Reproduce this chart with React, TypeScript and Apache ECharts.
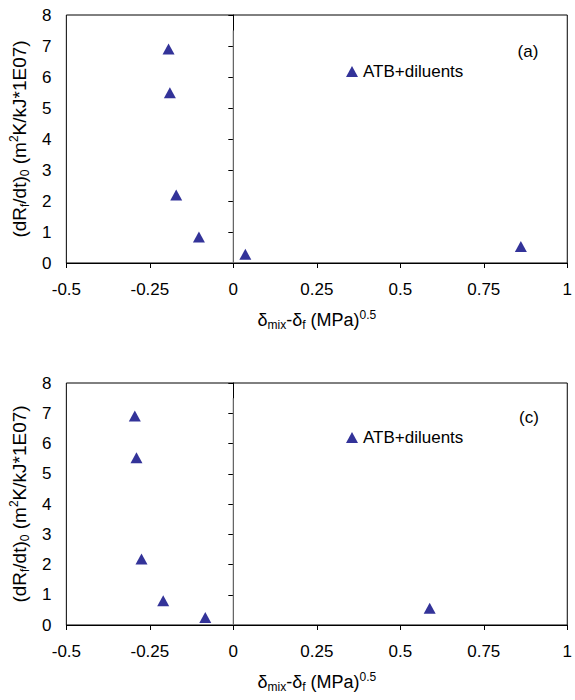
import { useEffect, useRef } from "react";
import * as echarts from "echarts";

const SERIES_NAME = "ATB+diluents";
const X_TICKS = ["-0.5", "-0.25", "0", "0.25", "0.5", "0.75", "1"];
// panel (a)
const X_A = [-0.194, -0.19, -0.171, -0.103, 0.036, 0.861];
const Y_A = [6.9, 5.49, 2.19, 0.84, 0.28, 0.53];
// panel (c)
const X_C = [-0.295, -0.29, -0.275, -0.21, -0.084, 0.588];
const Y_C = [6.91, 5.53, 2.18, 0.8, 0.25, 0.55];
// zero reference line
const ZERO_LINE = [[0, 0], [0, 7.5]];
const PANEL_TAGS = ["(a)", "(c)"];

const FONT = "'Liberation Sans', Arial, sans-serif";
const MARK = "#333399";

const richOf = (size: number) => ({
  n: { fontSize: size, fontFamily: FONT, color: "#000", lineHeight: size + 4 },
  sub: { fontSize: 12, fontFamily: FONT, color: "#000", lineHeight: 10, verticalAlign: "bottom" as const },
  sup: { fontSize: 12, fontFamily: FONT, color: "#000", lineHeight: 10, verticalAlign: "top" as const },
});

const Y_NAME = "{n|(dR}{sub|f}{n|/dt)}{sub|0}{n| (m}{sup|2}{n|K/kJ*1E07)}";
const X_NAME = "{n|δ}{sub|mix}{n|-δ}{sub|f}{n| (MPa)}{sup|0.5}";

export default function App() {
  const ref = useRef<HTMLDivElement>(null);
  useEffect(() => {
    document.body.style.margin = "0";
    if (!ref.current) return;
    const chart = echarts.init(ref.current, undefined, { renderer: "svg" });
    const grids = [
      { left: 66, right: 4, top: 15, height: 248 },
      { left: 66, right: 4, top: 383, height: 242 },
    ];
    const xAxis = grids.map((_, i) => ({
      type: "value" as const,
      gridIndex: i,
      min: -0.5,
      max: 1,
      interval: 0.25,
      name: X_NAME,
      nameLocation: "middle" as const,
      nameGap: 46,
      nameTextStyle: { rich: richOf(18) },
      axisLine: { onZero: false, lineStyle: { color: "#000", width: 1 } },
      axisTick: { show: true, length: 5, lineStyle: { color: "#000" } },
      axisLabel: {
        color: "#000",
        fontSize: 17,
        fontFamily: FONT,
        margin: 18,
        formatter: (v: number) => X_TICKS[Math.round((v + 0.5) / 0.25)] ?? String(v),
      },
      splitLine: { show: false },
    }));
    const yAxis = grids.map((_, i) => ({
      type: "value" as const,
      gridIndex: i,
      min: 0,
      max: 8,
      interval: 1,
      name: Y_NAME,
      nameLocation: "middle" as const,
      nameRotate: 90,
      nameGap: 34,
      nameTextStyle: { rich: richOf(19) },
      axisLine: { show: true, lineStyle: { color: "#000", width: 1 } },
      axisTick: { show: true, length: 5, lineStyle: { color: "#000" } },
      axisLabel: { color: "#000", fontSize: 17, fontFamily: FONT, margin: 15 },
      splitLine: { show: false },
    }));
    const scatter = (xs: number[], ys: number[], i: number) => ({
      type: "scatter" as const,
      name: SERIES_NAME,
      xAxisIndex: i,
      yAxisIndex: i,
      symbol: "triangle",
      symbolSize: [12, 11],
      itemStyle: { color: MARK, opacity: 1 },
      data: xs.map((x, k) => [x, ys[k]]),
    });
    const zeroLine = (i: number) => ({
      type: "line" as const,
      xAxisIndex: i,
      yAxisIndex: i,
      symbol: "none",
      lineStyle: { color: "#6f6f6f", width: 1.2 },
      data: ZERO_LINE,
      silent: true,
    });
    chart.setOption({
      animation: false,
      backgroundColor: "#fff",
      grid: grids.map((g) => ({ ...g, show: true, borderColor: "#000", borderWidth: 1 })),
      xAxis,
      yAxis,
      legend: [
        { left: 341, top: 58 },
        { left: 341, top: 424 },
      ].map((p) => ({
        ...p,
        data: [SERIES_NAME],
        icon: "triangle",
        itemWidth: 12,
        itemHeight: 11,
        itemGap: 4,
        selectedMode: false,
        textStyle: { color: "#000", fontSize: 17, fontFamily: FONT },
      })),
      graphic: [
        { type: "text", x: 528, y: 51, style: { text: PANEL_TAGS[0], fill: "#000", font: `17px ${FONT}`, align: "center", verticalAlign: "middle" } },
        { type: "text", x: 529, y: 417, style: { text: PANEL_TAGS[1], fill: "#000", font: `17px ${FONT}`, align: "center", verticalAlign: "middle" } },
      ],
      series: [scatter(X_A, Y_A, 0), zeroLine(0), scatter(X_C, Y_C, 1), zeroLine(1)],
    });
    return () => chart.dispose();
  }, []);
  return <div ref={ref} style={{ width: 575, height: 700 }} />;
}
